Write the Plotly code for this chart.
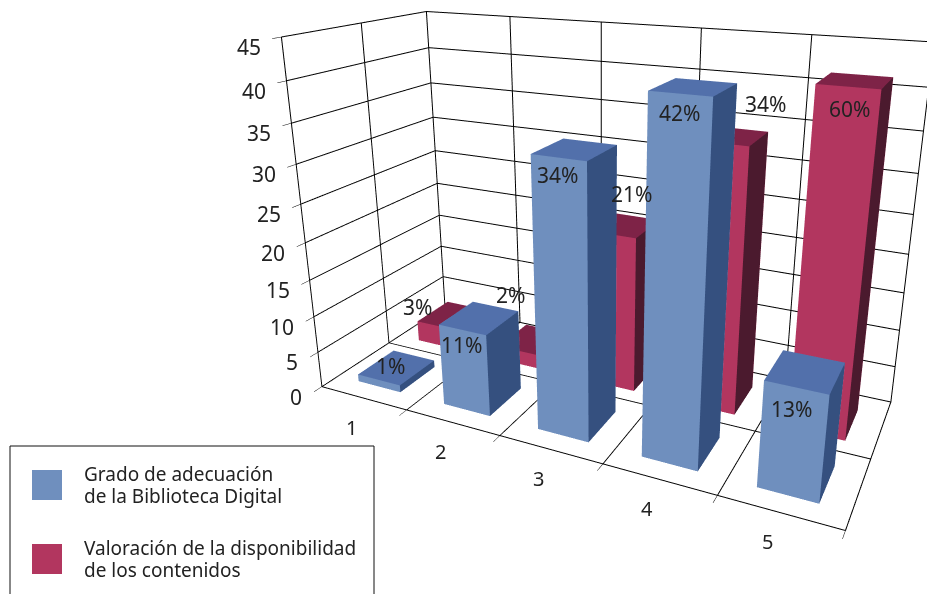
import plotly.graph_objects as go

categories = [1, 2, 3, 4, 5]
series_names = [["Grado de adecuación", "de la Biblioteca Digital"],
                ["Valoración de la disponibilidad", "de los contenidos"]]
grado_values = [1, 11, 34, 42, 13]
valor_values = [3, 2, 21, 34, 41.5]
grado_labels = ["1%", "11%", "34%", "42%", "13%"]
valor_labels = ["3%", "2%", "21%", "34%", "60%"]
z_ticks = [0, 5, 10, 15, 20, 25, 30, 35, 40, 45]

# pixel nudges of the value labels
GRADO_SHIFT = [(14, 15), (0, 9), (0, 11), (2, 12), (-2, 6)]
VALOR_SHIFT = [(-19, -1), (-10, 35), (20, 16), (43, 12), (4, 6)]

BLUE = ("#6F8FBE", "#5270AB", "#35507F")
RED = ("#B2365F", "#7E2347", "#4B1A2E")
FONT = "Noto Sans"
TXT = "#222"
W = 0.25  # half bar width
D = 0.27  # half bar depth

FIG_W, FIG_H, TOP = 1204, 764, 153   # larger canvas gives the long lens of the original


def px(x):
    return x / FIG_W


def py(y):
    return 1 - (y + TOP) / FIG_H


def bars(values, yc, cols, name):
    xs, ys, zs, i, j, k, fc = [], [], [], [], [], [], []
    for c, v in zip(categories, values):
        n = len(xs)
        for dx, dy, dz in [(-W, -D, 0), (W, -D, 0), (W, D, 0), (-W, D, 0),
                           (-W, -D, v), (W, -D, v), (W, D, v), (-W, D, v)]:
            xs.append(c + dx)
            ys.append(yc + dy)
            zs.append(dz)
        faces = [((0, 1, 5), 0), ((0, 5, 4), 0), ((4, 5, 6), 1), ((4, 6, 7), 1),
                 ((1, 2, 6), 2), ((1, 6, 5), 2), ((0, 3, 7), 0), ((0, 7, 4), 0),
                 ((3, 2, 6), 0), ((3, 6, 7), 0)]
        for (a, b, d), col in faces:
            i.append(n + a)
            j.append(n + b)
            k.append(n + d)
            fc.append(cols[col])
    return go.Mesh3d(x=xs, y=ys, z=zs, i=i, j=j, k=k, facecolor=fc, flatshading=True, name=name,
                     lighting=dict(ambient=1, diffuse=0, specular=0, fresnel=0, roughness=1),
                     hoverinfo="skip", showscale=False)


fig = go.Figure([bars(valor_values, 1.45, RED, "valor"), bars(grado_values, 0.5, BLUE, "grado")])

anns = []
lab = dict(size=21, color=TXT, family=FONT)
for c in categories:
    anns.append(dict(x=c, y=0, z=0, text=str(c), showarrow=False, xshift=-12, yshift=-29,
                     font=dict(size=20, color=TXT, family=FONT)))
for z in z_ticks:
    anns.append(dict(x=0.5, y=0, z=z, text=str(z), showarrow=False, xanchor="right", xshift=-18, yshift=-10,
                     font=dict(size=21, color=TXT, family=FONT)))
for c, v, t, s in zip(categories, grado_values, grado_labels, GRADO_SHIFT):
    anns.append(dict(x=c, y=0.2, z=max(v - 3, 1), text=t, showarrow=False, xshift=s[0], yshift=s[1], font=lab))
for c, v, t, s in zip(categories, valor_values, valor_labels, VALOR_SHIFT):
    anns.append(dict(x=c, y=1.2, z=v + 3 if c < 5 else v - 3, text=t, showarrow=False, xshift=s[0], yshift=s[1], font=lab))

ax_common = dict(showbackground=False, gridcolor="#000", gridwidth=2, linecolor="#000", linewidth=2,
                 zeroline=False, showspikes=False, title=dict(text=""), ticks="outside", tickcolor="#000", showticklabels=False)

leg = []
for (lines, ys) in zip(series_names, [(474, 496), (548, 570)]):
    for txt, y in zip(lines, ys):
        leg.append(dict(xref="paper", yref="paper", x=px(82), y=py(y), text=txt, showarrow=False, xanchor="left",
                        yanchor="middle", align="left", font=dict(size=19, color=TXT, family=FONT)))

fig.update_layout(
    width=FIG_W, height=FIG_H, margin=dict(l=0, r=0, t=0, b=0), paper_bgcolor="white", showlegend=False,
    font=dict(family=FONT, color=TXT),
    scene=dict(
        domain=dict(x=[0, 1], y=[0, 1]),
        aspectmode="manual", aspectratio=dict(x=1, y=0.4127, z=0.6666),
        camera=dict(eye=dict(x=0.6637, y=-1.393, z=0.5529),
                    center=dict(x=0, y=0, z=0),
                    up=dict(x=0, y=0, z=1),
                    projection=dict(type="perspective")),
        xaxis=dict(ax_common, range=[0.5, 5.5], tickvals=[0.5, 1.5, 2.5, 3.5, 4.5, 5.5], ticklen=18),
        yaxis=dict(ax_common, range=[0, 2], tickvals=[0, 1, 2], ticks=""),
        zaxis=dict(ax_common, range=[0, 45], tickvals=z_ticks, ticklen=8),
        annotations=anns,
    ),
    shapes=[
        dict(type="rect", xref="paper", yref="paper", x0=px(10), x1=px(374), y0=py(610), y1=py(446),
             line=dict(color="#111", width=1), fillcolor="white"),
        dict(type="rect", xref="paper", yref="paper", x0=px(32), x1=px(62), y0=py(500), y1=py(470),
             line=dict(width=0), fillcolor=BLUE[0]),
        dict(type="rect", xref="paper", yref="paper", x0=px(32), x1=px(62), y0=py(574), y1=py(544),
             line=dict(width=0), fillcolor=RED[0]),
    ],
    annotations=leg,
)
fig.write_html("out.html", config=dict(displayModeBar=False),
               post_script="document.body.style.margin='-%dpx 0 0 0';document.documentElement.style.overflow='hidden';" % TOP)
